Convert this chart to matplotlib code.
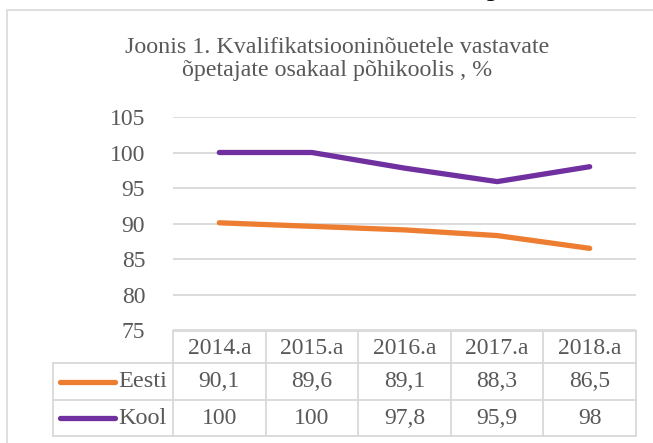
import matplotlib.pyplot as plt
from matplotlib.lines import Line2D
from matplotlib.patches import Rectangle
from matplotlib.transforms import blended_transform_factory

plt.rcParams['font.family'] = ['Liberation Serif', 'DejaVu Serif']

title = "Joonis 1. Kvalifikatsiooninõuetele vastavate\nõpetajate osakaal põhikoolis , %"
years = ['2014.a', '2015.a', '2016.a', '2017.a', '2018.a']
eesti = [90.1, 89.6, 89.1, 88.3, 86.5]
kool = [100, 100, 97.8, 95.9, 98]
series = [('Eesti', eesti, '#ED7D31'), ('Kool', kool, '#7030A0')]

W, H = 653, 443
txt = '#595959'
grid = '#D9D9D9'

fig = plt.figure(figsize=(W / 100, H / 100), dpi=100)


def fx(px):
    return px / W


def fy(py):
    return 1 - py / H


# outer chart frame
fig.patches.append(Rectangle((fx(7), fy(460)), fx(700), fy(10) - fy(460),
                             transform=fig.transFigure, fill=False,
                             edgecolor=grid, linewidth=1.2))
# tail of a letter from the text above the chart
fig.text(fx(485), fy(-4), 'g', fontsize=17, color='black',
         ha='left', va='baseline')

fig.text(fx(337), fy(59), title, ha='center', va='center',
         fontsize=17.3, color=txt, linespacing=1.1)

ax = fig.add_axes([fx(173), fy(330), fx(636) - fx(173), fy(117) - fy(330)])
ax.set_xlim(-0.5, len(years) - 0.5)
ax.set_ylim(75, 105)
ax.set_yticks(range(75, 106, 5))
ax.set_xticks([])
ax.grid(axis='y', color=grid, linewidth=1.3)
ax.set_axisbelow(True)
for s in ax.spines.values():
    s.set_visible(False)
ax.tick_params(axis='y', length=0, pad=20, labelsize=17, labelcolor=txt)

xs = list(range(len(years)))
for name, vals, col in series:
    ax.plot(xs, vals, color=col, linewidth=3.8, solid_capstyle='round')

# data table under the plot
bt = blended_transform_factory(ax.transData, fig.transFigure)
rows_y = [331, 363, 400, 436]
kw = dict(color=grid, linewidth=1.3, clip_on=False)

# horizontal rules
fig.add_artist(Line2D([fx(173), fx(636)], [fy(331)] * 2,
                      transform=fig.transFigure, **kw))
for y in rows_y[1:]:
    fig.add_artist(Line2D([fx(53), fx(636)], [fy(y)] * 2,
                          transform=fig.transFigure, **kw))
# vertical rules
fig.add_artist(Line2D([fx(53)] * 2, [fy(363), fy(436)],
                      transform=fig.transFigure, **kw))
for i in range(len(years) + 1):
    fig.add_artist(Line2D([i - 0.5] * 2, [fy(331), fy(436)],
                          transform=bt, **kw))

for i, yr in enumerate(years):
    fig.text(i, fy(348), yr, transform=bt, ha='center', va='center',
             fontsize=17, color=txt)

for r, (name, vals, col) in enumerate(series):
    yc = fy((rows_y[r + 1] + rows_y[r + 2]) / 2)
    fig.add_artist(Line2D([fx(60), fx(115)], [yc, yc], color=col,
                          linewidth=3.8, solid_capstyle='round',
                          transform=fig.transFigure))
    fig.text(fx(167), yc, name, ha='right', va='center', fontsize=17.5,
             color=txt)
    for i, v in enumerate(vals):
        lab = ('%g' % v).replace('.', ',')
        fig.text(i, yc, lab, transform=bt, ha='center', va='center',
                 fontsize=17, color=txt)

fig.savefig('out.png', dpi=100)
